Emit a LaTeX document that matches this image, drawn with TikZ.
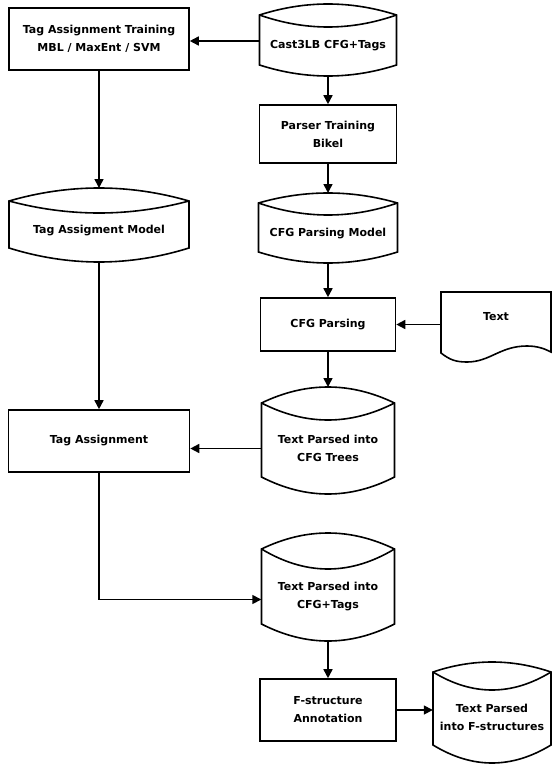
\documentclass[tikz,border=0pt]{standalone}
\usepackage{fontspec}
\newfontfamily\dv{DejaVu Sans}
\usetikzlibrary{arrows.meta,calc}
\newcommand\lbl{\dv\bfseries\fontsize{11}{18}\selectfont}
% #1 name, #2 centre x, #3 width, #4 peak, #5 top corner, #6 lens dip, #7 bottom corner, #8 lowest, #9 text
\newcommand\storedshape[9]{%
  \node[stxt, minimum width=#3pt, minimum height={(#7-#6)*1pt}] (#1) at (#2,{(#6+#7)/2}) {#9};
  \draw[sline] ({#2-#3/2},#5) .. controls ({#2-#3/6},{#4-(#5-#4)/3}) and ({#2+#3/6},{#4-(#5-#4)/3}) .. ({#2+#3/2},#5)
     -- ({#2+#3/2},#7) .. controls ({#2+#3/6},{#8+(#8-#7)/3}) and ({#2-#3/6},{#8+(#8-#7)/3}) .. ({#2-#3/2},#7) -- cycle;
  \draw[sline] ({#2-#3/2},#5) .. controls ({#2-#3/6},{(4*#6-#5)/3}) and ({#2+#3/6},{(4*#6-#5)/3}) .. ({#2+#3/2},#5);
  \coordinate (#1-top) at (#2,#4);
  \coordinate (#1-bot) at (#2,#8);
}
\begin{document}
\begin{tikzpicture}[x=1pt,y=-1pt,
  sline/.style={line width=1.6pt, line join=miter},
  box/.style={draw, line width=1.6pt, inner sep=0pt, align=center, font=\lbl},
  stxt/.style={inner sep=0pt, align=center, font=\lbl},
  arr/.style={line width=1.6pt, -{Triangle[length=9pt,width=9pt]}}]
\useasboundingbox[fill=white] (0,0) rectangle (552,765);

\node[box, minimum width=180pt, minimum height=62pt] (train) at (99,39) {Tag Assignment Training\\MBL / MaxEnt / SVM};
\storedshape{cast}{328}{137}{4}{15}{27}{65}{76}{Cast3LB CFG+Tags}
\node[box, minimum width=137pt, minimum height=58pt] (ptrain) at (328,134) {Parser Training\\Bikel};
\storedshape{tmodel}{99}{180}{188}{201}{213}{248}{262}{Tag Assigment Model}
\storedshape{pmodel}{328}{139}{193}{203}{215}{252}{263}{CFG Parsing Model}
\node[box, minimum width=135pt, minimum height=53pt] (parsing) at (328,324.5) {CFG Parsing};
\node[stxt, minimum width=110pt, minimum height=50pt] (doc) at (496,317) {Text};
\draw[sline] (441,353) -- (441,292) -- (551,292) -- (551,352)
  .. controls (545,349) and (538,346) .. (527,346)
  .. controls (500,346) and (490,362) .. (467,362)
  .. controls (456,362) and (450,360) .. (441,353) -- cycle;
\node[box, minimum width=181pt, minimum height=62pt] (tagassign) at (99,441) {Tag Assignment};
\storedshape{trees}{328}{133}{387}{403}{420}{477}{494}{Text Parsed into\\CFG Trees}
\storedshape{tags}{328}{133}{533}{549}{569}{624}{641}{Text Parsed into\\CFG+Tags}
\node[box, minimum width=136pt, minimum height=62pt] (fanno) at (328,710) {F-structure\\Annotation};
\storedshape{fstruct}{492}{118}{662}{672}{690}{745}{763}{Text Parsed\\into F-structures}

\draw[arr] ([yshift=-2pt]train.east -| cast.west) -- ([yshift=-2pt]train.east);
\draw[arr] (cast-bot) -- (ptrain.north);
\draw[arr] (ptrain.south) -- (pmodel-top);
\draw[arr] (pmodel-bot) -- (parsing.north);
\draw[arr] (parsing.east -| doc.west) -- (parsing.east);
\draw[arr] (parsing.south) -- (trees-top);
\draw[arr] (train.south) -- (tmodel-top);
\draw[arr] (tmodel-bot) -- (tagassign.north);
\draw[arr] (trees.west) -- (trees.west -| tagassign.east);
\draw[arr] (tagassign.south) |- ([yshift=-3pt]tags.west);
\draw[arr] (tags-bot) -- (fanno.north);
\draw[arr] (fanno.east) -- (fanno.east -| fstruct.west);
\end{tikzpicture}
\end{document}
